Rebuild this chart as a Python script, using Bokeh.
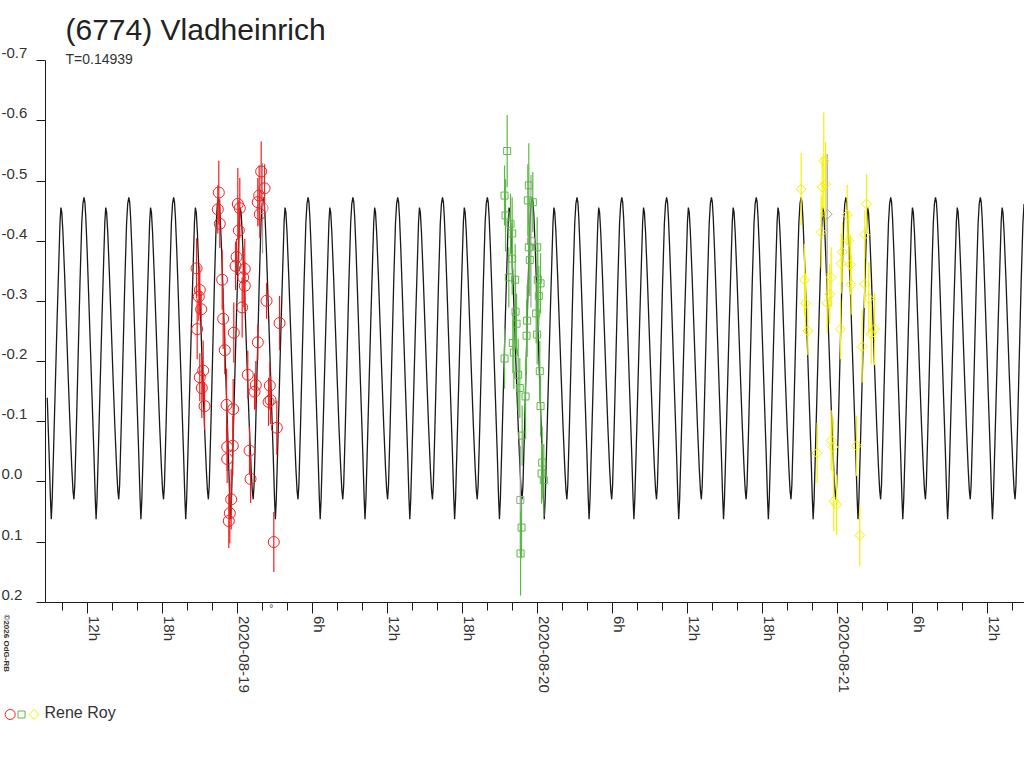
import numpy as np
from bokeh.plotting import figure
from bokeh.models import Range1d, FixedTicker, Label, LinearAxis
from bokeh.embed import file_html
from bokeh.resources import INLINE

# ---------------- texts ----------------
title_text = "(6774) Vladheinrich"
period_label = "T=0.14939"
period_days = 0.14939
observer = "Rene Roy"
credit = "\u00a92026 OdG-RB"

# ---------------- axes (time in hours from 2020-08-19 00:00 UT) ----------------
x_tick_hours = [-12, -6, 0, 6, 12, 18, 24, 30, 36, 42, 48, 54, 60]
x_tick_labels = ["12h", "18h", "2020-08-19", "6h", "12h", "18h", "2020-08-20",
                 "6h", "12h", "18h", "2020-08-21", "6h", "12h"]
x_minor_hours = list(range(-14, 64, 2))
y_ticks = [-0.7, -0.6, -0.5, -0.4, -0.3, -0.2, -0.1, 0.0, 0.1, 0.2]
y_tick_labels = ["-0.7", "-0.6", "-0.5", "-0.4", "-0.3", "-0.2", "-0.1", "0.0", "0.1", "0.2"]

# ---------------- model lightcurve: one rotation, phase 0 = primary maximum ----------------
curve_phase = [0.00, 0.02, 0.04, 0.07, 0.10, 0.14, 0.18, 0.22, 0.25, 0.27,
               0.29, 0.32, 0.36, 0.40, 0.44, 0.465, 0.485,
               0.505, 0.53, 0.57, 0.61, 0.65, 0.69, 0.73, 0.755, 0.775,
               0.795, 0.83, 0.87, 0.91, 0.95, 0.975]
curve_mag = [-0.473, -0.465, -0.440, -0.385, -0.320, -0.230, -0.140, -0.050, 0.025, 0.062,
             0.030, -0.050, -0.160, -0.270, -0.370, -0.432, -0.456,
             -0.448, -0.415, -0.340, -0.255, -0.170, -0.090, -0.020, 0.015, 0.029,
             0.005, -0.090, -0.210, -0.330, -0.430, -0.462]
epoch_max_h = 30.72

# ---------------- session 1 (red circles) ----------------
s1_t = [-1.52, -1.60, -1.44, 0.00, 0.16, 0.08, 1.87, 2.14, 1.71, 1.60, 1.76,
        -3.30, -3.04, -3.12, -2.93, -3.25, -1.25, -0.10, -0.18, 0.56, 0.43, 0.56,
        0.35, -1.17, -0.32, 1.60, 2.30, 3.34, -1.04, -2.77, -3.04, -2.88, -2.66,
        -0.90, -0.37, 0.80, 1.44, 1.34, 2.56, 2.62, 2.46, 3.12, -0.85, -0.40,
        -0.85, 0.94, 1.02, -0.53, -0.64, -0.72, 2.88]
s1_m = [-0.481, -0.453, -0.429, -0.462, -0.455, -0.418, -0.516, -0.488, -0.476, -0.465, -0.445,
        -0.355, -0.319, -0.308, -0.287, -0.254, -0.336, -0.374, -0.359, -0.354, -0.340, -0.326,
        -0.290, -0.271, -0.248, -0.232, -0.301, -0.264, -0.219, -0.185, -0.174, -0.156, -0.126,
        -0.128, -0.121, -0.178, -0.161, -0.150, -0.160, -0.136, -0.133, -0.090, -0.058, -0.060,
        -0.038, -0.052, -0.005, 0.029, 0.052, 0.065, 0.100]
s1_e = [0.053, 0.04, 0.04, 0.06, 0.05, 0.05, 0.05, 0.04, 0.05, 0.04, 0.04,
        0.05, 0.04, 0.04, 0.03, 0.05, 0.05, 0.03, 0.04, 0.05, 0.05, 0.04,
        0.05, 0.05, 0.05, 0.03, 0.03, 0.045, 0.04, 0.05, 0.04, 0.05, 0.04,
        0.06, 0.05, 0.04, 0.04, 0.03, 0.04, 0.04, 0.04, 0.045, 0.04, 0.05,
        0.04, 0.04, 0.04, 0.05, 0.05, 0.045, 0.05]

# ---------------- session 2 (green squares) ----------------
s2_t = [21.55, 23.28, 21.34, 23.20, 23.60, 21.42, 21.82, 21.95, 23.28, 23.95,
        21.95, 23.36, 21.68, 22.19, 24.22, 24.00, 24.08, 22.22, 22.30, 23.15,
        23.87, 23.10, 23.95, 22.00, 22.08, 21.34, 22.43, 24.16, 22.56, 23.02,
        24.22, 22.75, 24.35, 24.30, 24.48, 22.70, 22.62]
s2_m = [-0.550, -0.493, -0.476, -0.468, -0.465, -0.443, -0.429, -0.413, -0.390, -0.390,
        -0.371, -0.369, -0.340, -0.336, -0.330, -0.336, -0.309, -0.283, -0.263, -0.268,
        -0.280, -0.243, -0.245, -0.231, -0.215, -0.205, -0.178, -0.184, -0.156, -0.142,
        -0.126, -0.077, -0.032, -0.014, -0.003, 0.076, 0.119]
s2_e = [0.06, 0.07, 0.05, 0.06, 0.05, 0.06, 0.05, 0.06, 0.07, 0.05,
        0.06, 0.06, 0.05, 0.06, 0.05, 0.06, 0.05, 0.06, 0.05, 0.06,
        0.05, 0.06, 0.05, 0.05, 0.06, 0.05, 0.06, 0.05, 0.05, 0.06,
        0.05, 0.05, 0.06, 0.05, 0.06, 0.05, 0.07]

# ---------------- session 3 (yellow diamonds) ----------------
s3_t = [45.07, 46.88, 47.02, 46.75, 46.67, 50.30, 48.75, 50.16, 48.35, 48.88,
        48.27, 49.02, 45.34, 47.47, 47.36, 49.07, 50.14, 45.42, 47.15, 50.48,
        45.60, 48.22, 50.94, 50.67, 49.95, 47.47, 47.63, 49.50, 46.35, 47.68,
        47.90, 49.76]
s3_m = [-0.487, -0.534, -0.495, -0.490, -0.415, -0.462, -0.444, -0.411, -0.382, -0.401,
        -0.363, -0.361, -0.336, -0.340, -0.312, -0.328, -0.329, -0.297, -0.297, -0.305,
        -0.251, -0.254, -0.254, -0.246, -0.225, -0.069, -0.058, -0.060, -0.048, 0.032,
        0.038, 0.089]
s3_e = [0.06, 0.08, 0.07, 0.05, 0.06, 0.05, 0.05, 0.04, 0.05, 0.05,
        0.05, 0.05, 0.06, 0.05, 0.05, 0.05, 0.04, 0.05, 0.05, 0.06,
        0.04, 0.05, 0.06, 0.05, 0.06, 0.05, 0.05, 0.05, 0.05, 0.05,
        0.05, 0.05]

# ---------------- secondary points (grey) ----------------
g1_t, g1_m, g1_e = [1.98], [-0.455], [0.075]
g2_t, g2_m, g2_e = [23.45, 22.60], [-0.400, 0.030], [0.11, 0.09]
g3_t, g3_m, g3_e = [47.15], [-0.445], [0.10]

RED, GREEN, YELLOW, GREY, INK, TXT = "#f02020", "#5cb846", "#f4f000", "#a0a0a0", "#1a1a1a", "#333333"
FONT = "Liberation Sans"

# ---------------- page geometry (canvas pixels) ----------------
W, H = 1024, 760
X_ZERO_PX, PX_PER_HOUR = 237.3, 12.5        # pixel of 2020-08-19 00h, pixels per hour
Y_TOP_PX, PX_PER_MAG = 60.3, 601.55         # pixel of mag -0.7, pixels per mag
AXIS_LEFT_PX = 45.0


def t_at(px):
    return (px - X_ZERO_PX) / PX_PER_HOUR


def m_at(py):
    return -0.7 + (py - Y_TOP_PX) / PX_PER_MAG


T_LEFT, T_RIGHT = t_at(AXIS_LEFT_PX), t_at(W)

p = figure(width=W, height=H, output_backend="svg", toolbar_location=None, title=None,
           x_range=Range1d(t_at(0), t_at(W)), y_range=Range1d(m_at(H), m_at(0)),
           x_axis_location=None, y_axis_location=None, min_border=0)
p.outline_line_color = None
p.xgrid.visible = False
p.ygrid.visible = False
p.background_fill_color = "white"

xa = LinearAxis(fixed_location=y_ticks[-1], bounds=(T_LEFT, T_RIGHT),
                ticker=FixedTicker(ticks=x_tick_hours, minor_ticks=x_minor_hours),
                major_tick_out=11, major_tick_in=0, minor_tick_out=8, minor_tick_in=0,
                axis_line_color=INK, major_tick_line_color=INK, minor_tick_line_color=INK,
                major_label_text_color=None)
ya = LinearAxis(fixed_location=T_LEFT, bounds=(y_ticks[0], y_ticks[-1]),
                ticker=FixedTicker(ticks=y_ticks, minor_ticks=[]),
                major_tick_out=9, major_tick_in=0, minor_tick_line_color=None,
                axis_line_color=INK, major_tick_line_color=INK,
                major_label_text_color=None)
p.add_layout(xa, "below")
p.add_layout(ya, "left")

# model curve tiled over rotations, kept inside the plotting area
P_h = period_days * 24.0
k0 = int(np.floor((T_LEFT - epoch_max_h) / P_h)) - 1
k1 = int(np.ceil((T_RIGHT - epoch_max_h) / P_h)) + 1
ct, cm = [], []
for k in range(k0, k1 + 1):
    for ph, mg in zip(curve_phase, curve_mag):
        tt = epoch_max_h + (k + ph) * P_h
        if T_LEFT + 0.05 <= tt <= T_RIGHT:
            ct.append(tt)
            cm.append(mg)
p.line(ct, cm, line_color=INK, line_width=1.3)


def draw_session(t, m, e, color, marker, size, angle=0.0):
    t = np.array(t); m = np.array(m); e = np.array(e)
    p.segment(x0=t, y0=m - e, x1=t, y1=m + e, line_color=color, line_width=1.2)
    p.scatter(t, m, marker=marker, size=size, angle=angle, fill_color=None,
              line_color=color, line_width=1)


draw_session(g1_t, g1_m, g1_e, GREY, "circle", 11)
draw_session(g2_t, g2_m, g2_e, GREY, "square", 7)
draw_session(g3_t, g3_m, g3_e, GREY, "square", 7, np.pi / 4)
draw_session(s1_t, s1_m, s1_e, RED, "circle", 11)
draw_session(s2_t, s2_m, s2_e, GREEN, "square", 7)
draw_session(s3_t, s3_m, s3_e, YELLOW, "square", 7, np.pi / 4)


def text(px, py, s, size, color=TXT, angle=0.0, align="left", style="normal"):
    # (px, py) is the centre line of the glyphs, in canvas pixels
    p.add_layout(Label(x=t_at(px), y=m_at(py), text=s, angle=angle, text_font=FONT,
                       text_font_size=size, text_color=color, text_align=align,
                       text_baseline="middle", text_font_style=style))


# title and period
text(65, 28.7, title_text, "30px", color="#222222")
text(65, 58.2, period_label, "14px")

# y tick labels (left aligned, just above each tick)
for v, lab in zip(y_ticks, y_tick_labels):
    py = Y_TOP_PX + (v + 0.7) * PX_PER_MAG
    text(1, py - 7.5, lab, "15px")

# x tick labels (rotated, reading downwards, right of each tick)
for h, lab in zip(x_tick_hours, x_tick_labels):
    px = X_ZERO_PX + h * PX_PER_HOUR
    text(px + 6.3, 615.5, lab, "15px", angle=-np.pi / 2)

text(270.7, 607.5, "\u00b0", "10px", align="center")
text(5.5, 614, credit, "8px", angle=-np.pi / 2, style="bold")

# legend
p.scatter([t_at(9.7)], [m_at(714)], marker="circle", size=10, fill_color=None, line_color=RED)
p.scatter([t_at(21)], [m_at(714)], marker="square", size=7, fill_color=None, line_color=GREEN)
p.scatter([t_at(33.5)], [m_at(714)], marker="square", size=7, angle=np.pi / 4,
          fill_color=None, line_color=YELLOW)
text(44, 712, observer, "16px")

open("out.html", "w").write(file_html(p, INLINE))
